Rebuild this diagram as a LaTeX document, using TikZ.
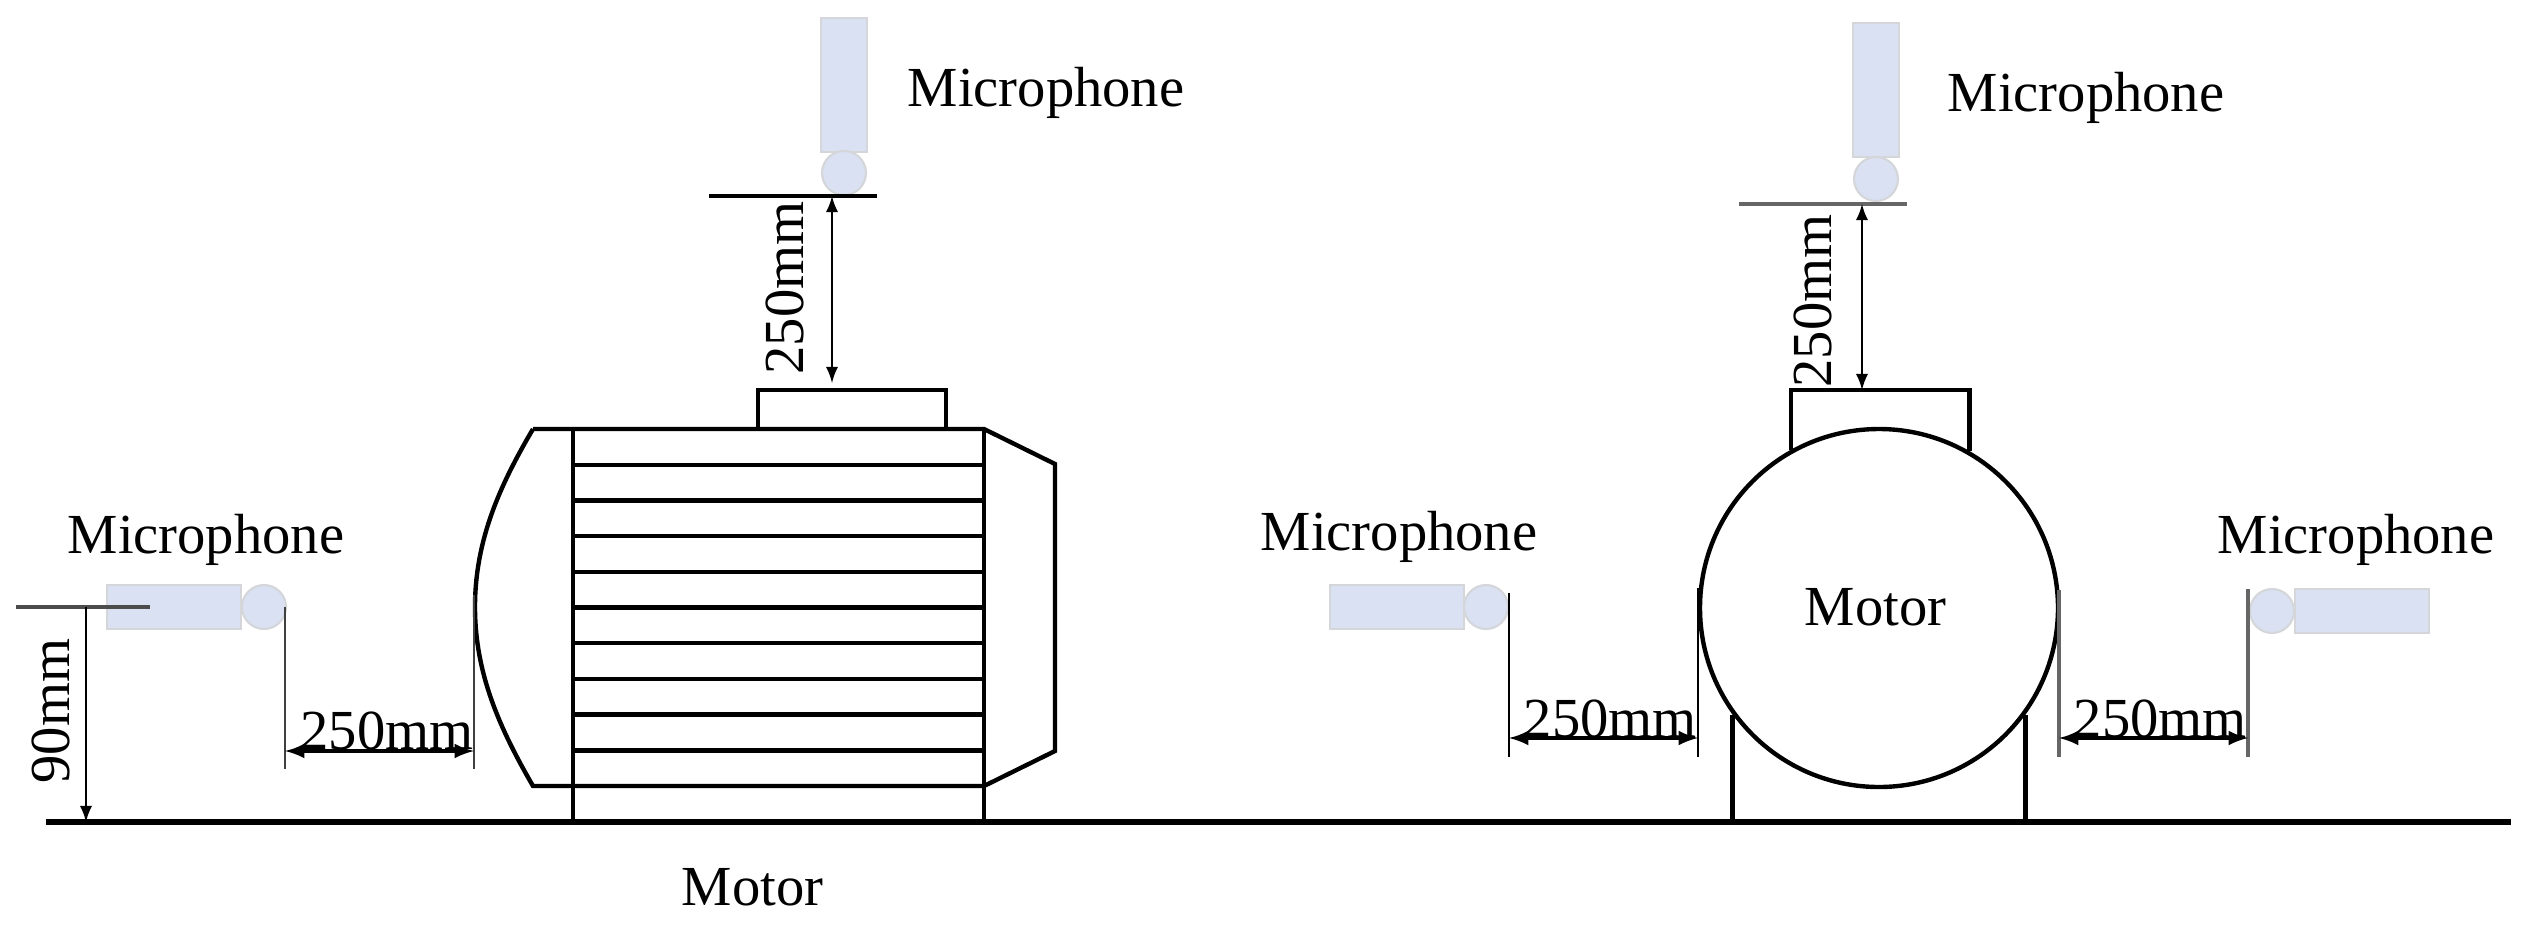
\documentclass[tikz,border=0pt]{standalone}
\usepackage{fontspec}
\setmainfont{Liberation Serif}
\usepackage{tikz}
\usetikzlibrary{calc}
\definecolor[named]{MicBlue}{HTML}{D9E1F2}
\definecolor[named]{MicEdge}{HTML}{D4D6DA}
\tikzset{
  lab/.style={inner sep=0pt,font=\fontsize{16.1}{16}\selectfont},
  body/.style={line width=1.25pt},
  ext/.style={line width=0.6pt,black!75},
  dim/.style={<->,>=latex,line width=0.6pt},
  micv/.style={fill=MicBlue,draw=MicEdge,line width=0.6pt,inner sep=0pt,minimum width=4.6mm,minimum height=13.4mm},
  mich/.style={fill=MicBlue,draw=MicEdge,line width=0.6pt,inner sep=0pt,minimum width=13.4mm,minimum height=4.4mm},
  micc/.style={circle,fill=MicBlue,draw=MicEdge,line width=0.6pt,inner sep=0pt,minimum size=4.4mm}
}

\begin{document}
\begin{tikzpicture}[x=0.1mm,y=-0.1mm]
  \useasboundingbox (0,0) rectangle (2525,925);
  \coordinate (gl) at (46,822);
  \coordinate (gr) at (2511,822);

  % microphones
  \node[micv] (mt1) at (844,85) {};
  \node[micc] (ct1) at (844,173) {};
  \node[micv] (mt2) at (1876,90) {};
  \node[micc] (ct2) at (1876,179) {};
  \node[mich] (ml) at (174,607) {};
  \node[micc] (cl) at (264,607) {};
  \node[mich] (mm) at (1397,607) {};
  \node[micc] (cm) at (1486,607) {};
  \node[mich] (mr) at (2362,611) {};
  \node[micc] (cr) at (2272,611) {};

  % side view
  \coordinate (a1) at (533,429);
  \coordinate (a2) at (984,429);
  \coordinate (a3) at (1055,464);
  \coordinate (a4) at (1055,751);
  \coordinate (a5) at (984,786);
  \coordinate (a6) at (533,786);
  \coordinate (a7) at (475,607);
  \coordinate (s1) at (573,429);
  \draw[body] (a1) -- (a2) -- (a3) -- (a4) -- (a5) -- (a6)
    .. controls (500,729) and (475,674) .. (a7)
    .. controls (475,540) and (500,485) .. (a1);
  \draw[body] (s1) -- (s1 |- gl);
  \draw[body] (a2) -- (a2 |- gl);
  \foreach \k in {1,...,9}
    \draw[body] (573,429+35.7*\k) -- (984,429+35.7*\k);
  \draw[body] (758,429) |- (946,390) -- (946,429);

  % front view
  \node[circle,draw,line width=1.25pt,inner sep=0pt,minimum size=35.8mm] (motorb) at (1879,608) {};
  \coordinate (bt) at (1879,390);
  \draw[body] (motorb.119.4) |- (bt) -| (motorb.60.6);
  \draw[body] (motorb.216.9) -- (motorb.216.9 |- gl);
  \draw[body] (motorb.-36.9) -- (motorb.-36.9 |- gl);
  \draw[line width=1.6pt] (gl) -- (gr);

  % left dimensions
  \coordinate (h1) at (16,607);
  \coordinate (h2) at (150,607);
  \coordinate (h3) at (86,607);
  \draw[line width=0.9pt,black!70] (h1) -- (h2);
  \draw[->,>=latex,line width=0.6pt] (h3) -- (h3 |- gl);
  \coordinate (e1) at (285,607);
  \coordinate (e2) at (285,769);
  \coordinate (e3) at (474,595);
  \coordinate (e4) at (474,769);
  \draw[ext] (e1) -- (e2);
  \draw[ext] (e3) -- (e4);
  \draw[dim,line width=0.9pt] (285,751) -- (474,751);

  % top dimensions
  \coordinate (t1) at (709,196);
  \coordinate (t2) at (877,196);
  \draw[line width=0.9pt] (t1) -- (t2);
  \draw[dim] (832,196) -- (832,383);
  \coordinate (t3) at (1739,204);
  \coordinate (t4) at (1907,204);
  \draw[line width=1.1pt,black!60] (t3) -- (t4);
  \draw[dim] (1862,204) -- (1862,390);

  % middle dimensions
  \coordinate (m1) at (1509,593);
  \coordinate (m2) at (1509,757);
  \coordinate (m3) at (1698,588);
  \coordinate (m4) at (1698,757);
  \draw[ext,black] (m1) -- (m2);
  \draw[ext,black] (m3) -- (m4);
  \draw[dim,line width=0.9pt] (1509,738) -- (1698,738);

  % right dimensions
  \coordinate (r1) at (2059,590);
  \coordinate (r2) at (2059,757);
  \coordinate (r3) at (2248,589);
  \coordinate (r4) at (2248,757);
  \draw[ext,line width=0.9pt,black!60] (r1) -- (r2);
  \draw[ext,line width=0.9pt,black!60] (r3) -- (r4);
  \draw[dim,line width=0.9pt] (2059,738) -- (2248,738);

  % labels
  \node[lab,anchor=base west] (l1) at (907,106) {Microphone};
  \node[lab,anchor=base west] (l2) at (1947,111) {Microphone};
  \node[lab,anchor=base west] (l3) at (67,553) {Microphone};
  \node[lab,anchor=base west] (l4) at (1260,550) {Microphone};
  \node[lab,anchor=base west] (l5) at (2217,553) {Microphone};
  \node[lab,anchor=base west] (n1) at (681,905) {Motor};
  \node[lab,anchor=base west] (n2) at (1804,625) {Motor};
  \node[lab,anchor=base west] (d1) at (300,749) {250mm};
  \node[lab,anchor=base west] (d2) at (1523,737) {250mm};
  \node[lab,anchor=base west] (d3) at (2073,737) {250mm};
  \node[lab,anchor=base,rotate=90] (d4) at (803,288) {250mm};
  \node[lab,anchor=base,rotate=90] (d5) at (1831,301) {250mm};
  \node[lab,anchor=base,rotate=90] (d6) at (69,711) {90mm};
\end{tikzpicture}
\end{document}
